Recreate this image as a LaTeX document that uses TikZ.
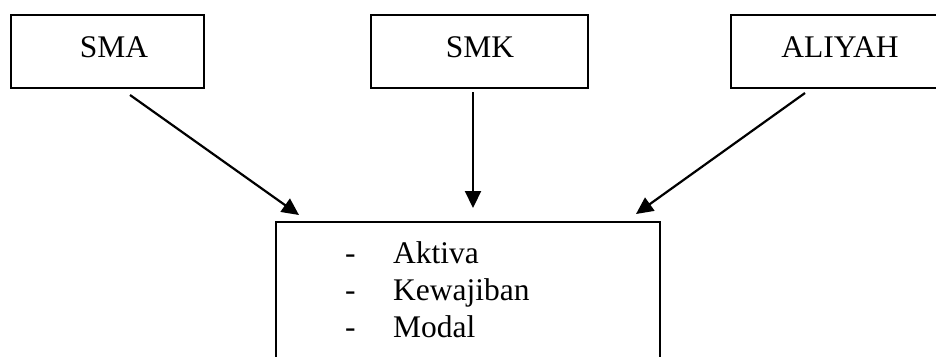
\documentclass[tikz,border=0pt]{standalone}
\usepackage{fontspec}
\setmainfont{Liberation Serif}
\usetikzlibrary{arrows.meta}
\tikzset{
  boxshape/.style={draw, line width=2.2pt, inner sep=0pt},
  boxtext/.style={anchor=base, inner sep=0pt, font=\fontsize{31.5}{37}\selectfont},
  listtext/.style={anchor=base west, inner sep=0pt, font=\fontsize{31.5}{37}\selectfont},
  flowarrow/.style={line width=2.2pt, -{Triangle[length=17pt,width=16pt]}}
}
\begin{document}
\begin{tikzpicture}[x=1pt,y=-1pt]
\useasboundingbox (0,0) rectangle (936,356);
\clip (0,0) rectangle (936,356);
% boxes
\node[boxshape, minimum width=193pt, minimum height=73pt] (sma) at (107.5,51.5) {};
\node[boxshape, minimum width=217pt, minimum height=73pt] (smk) at (479.5,51.5) {};
\node[boxshape, minimum width=219pt, minimum height=73pt] (aliyah) at (840.5,51.5) {};
\node[boxshape, minimum width=384pt, minimum height=148pt] (result) at (468,296) {};
% labels
\node[boxtext] (smat) at (114,57) {SMA};
\node[boxtext] (smkt) at (480,57) {SMK};
\node[boxtext] (aliyaht) at (840,57) {ALIYAH};
\node[listtext] (d1) at (345,263) {-};
\node[listtext] (d2) at (345,300) {-};
\node[listtext] (d3) at (345,337) {-};
\node[listtext] (l1) at (393,263) {Aktiva};
\node[listtext] (l2) at (393,300) {Kewajiban};
\node[listtext] (l3) at (393,337) {Modal};
% arrow ends
\coordinate (s1) at (130,95);
\coordinate (e1) at (299,215);
\coordinate (s2) at (473,92);
\coordinate (e2) at (473,208);
\coordinate (s3) at (805,93);
\coordinate (e3) at (636,214);
\draw[flowarrow] (s1) -- (e1);
\draw[flowarrow] (s2) -- (e2);
\draw[flowarrow] (s3) -- (e3);
\end{tikzpicture}
\end{document}
